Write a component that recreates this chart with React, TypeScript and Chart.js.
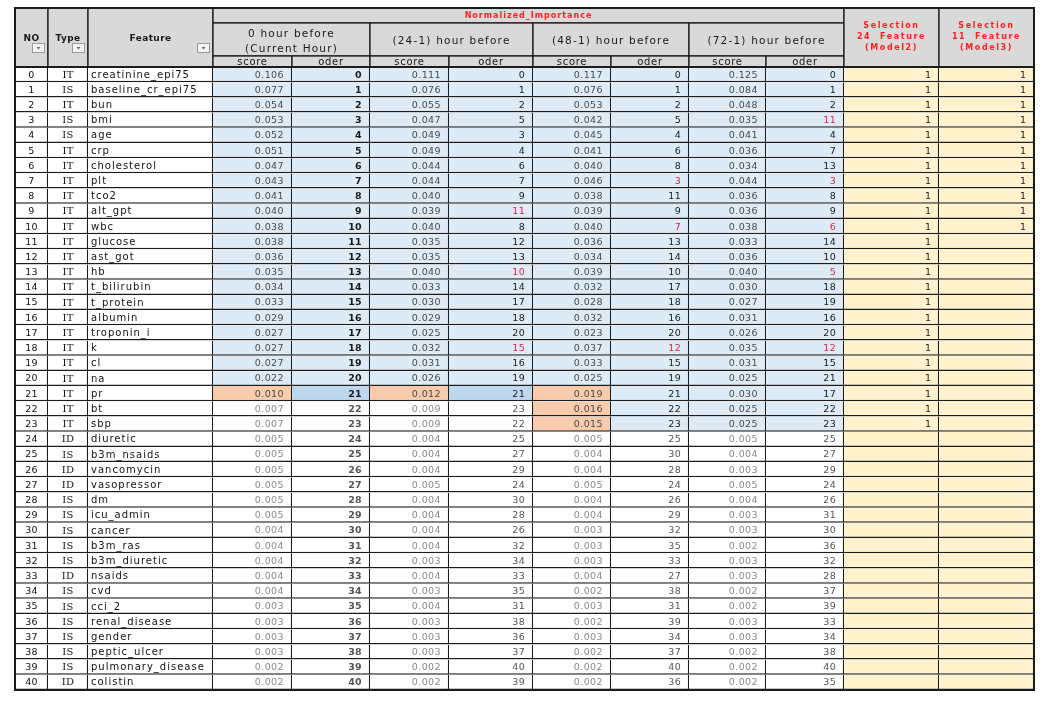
import React, { useEffect, useRef } from "react";
import { Chart, registerables } from "chart.js";
Chart.register(...registerables);

// ---------- data ----------
const ROW_NO = [0,1,2,3,4,5,6,7,8,9,10,11,12,13,14,15,16,17,18,19,20,21,22,23,24,25,26,27,28,29,30,31,32,33,34,35,36,37,38,39,40];
const TYPES = ["IT","IS","IT","IS","IS","IT","IT","IT","IT","IT","IT","IT","IT","IT","IT","IT","IT","IT","IT","IT","IT","IT","IT","IT","ID","IS","ID","ID","IS","IS","IS","IS","IS","ID","IS","IS","IS","IS","IS","IS","ID"];
const FEATURES = ["creatinine_epi75","baseline_cr_epi75","bun","bmi","age","crp","cholesterol","plt","tco2","alt_gpt","wbc","glucose","ast_got","hb","t_bilirubin","t_protein","albumin","troponin_i","k","cl","na","pr","bt","sbp","diuretic","b3m_nsaids","vancomycin","vasopressor","dm","icu_admin","cancer","b3m_ras","b3m_diuretic","nsaids","cvd","cci_2","renal_disease","gender","peptic_ulcer","pulmonary_disease","colistin"];

const SCORE_0H = [0.106,0.077,0.054,0.053,0.052,0.051,0.047,0.043,0.041,0.040,0.038,0.038,0.036,0.035,0.034,0.033,0.029,0.027,0.027,0.027,0.022,0.010,0.007,0.007,0.005,0.005,0.005,0.005,0.005,0.005,0.004,0.004,0.004,0.004,0.004,0.003,0.003,0.003,0.003,0.002,0.002];
const ORDER_0H = [0,1,2,3,4,5,6,7,8,9,10,11,12,13,14,15,16,17,18,19,20,21,22,23,24,25,26,27,28,29,30,31,32,33,34,35,36,37,38,39,40];
const SCORE_24H = [0.111,0.076,0.055,0.047,0.049,0.049,0.044,0.044,0.040,0.039,0.040,0.035,0.035,0.040,0.033,0.030,0.029,0.025,0.032,0.031,0.026,0.012,0.009,0.009,0.004,0.004,0.004,0.005,0.004,0.004,0.004,0.004,0.003,0.004,0.003,0.004,0.003,0.003,0.003,0.002,0.002];
const ORDER_24H = [0,1,2,5,3,4,6,7,9,11,8,12,13,10,14,17,18,20,15,16,19,21,23,22,25,27,29,24,30,28,26,32,34,33,35,31,38,36,37,40,39];
const SCORE_48H = [0.117,0.076,0.053,0.042,0.045,0.041,0.040,0.046,0.038,0.039,0.040,0.036,0.034,0.039,0.032,0.028,0.032,0.023,0.037,0.033,0.025,0.019,0.016,0.015,0.005,0.004,0.004,0.005,0.004,0.004,0.003,0.003,0.003,0.004,0.002,0.003,0.002,0.003,0.002,0.002,0.002];
const ORDER_48H = [0,1,2,5,4,6,8,3,11,9,7,13,14,10,17,18,16,20,12,15,19,21,22,23,25,30,28,24,26,29,32,35,33,27,38,31,39,34,37,40,36];
const SCORE_72H = [0.125,0.084,0.048,0.035,0.041,0.036,0.034,0.044,0.036,0.036,0.038,0.033,0.036,0.040,0.030,0.027,0.031,0.026,0.035,0.031,0.025,0.030,0.025,0.025,0.005,0.004,0.003,0.005,0.004,0.003,0.003,0.002,0.003,0.003,0.002,0.002,0.003,0.003,0.002,0.002,0.002];
const ORDER_72H = [0,1,2,11,4,7,13,3,8,9,6,14,10,5,18,19,16,20,12,15,21,17,22,23,25,27,29,24,26,31,30,36,32,28,37,39,33,34,38,40,35];

const SELECT_24 = [1,1,1,1,1,1,1,1,1,1,1,1,1,1,1,1,1,1,1,1,1,1,1,1,null,null,null,null,null,null,null,null,null,null,null,null,null,null,null,null,null];
const SELECT_11 = [1,1,1,1,1,1,1,1,1,1,1,null,null,null,null,null,null,null,null,null,null,null,null,null,null,null,null,null,null,null,null,null,null,null,null,null,null,null,null,null,null];

// highlight markers (per period: 0h, 24h, 48h, 72h)
const SHADED_ROWS = [22, 22, 24, 24];
const ORANGE_SCORE_ROWS = [[21], [21], [21, 22, 23], []];
const DARK_ORDER_ROWS = [[21], [21], [], []];
const RED_ORDER_ROWS = [[], [9, 13, 18], [7, 10, 18], [3, 7, 10, 13, 18]];

// header texts
const ID_TITLES = ["NO", "Type", "Feature"];
const TOP_TITLE = "Normalized_Importance";
const PERIOD_TITLES = [["0 hour before", "(Current Hour)"], ["(24-1) hour before"], ["(48-1) hour before"], ["(72-1) hour before"]];
const SUB_TITLES = ["score", "oder"];
const SELECTION_TITLES = [["Selection", "24  Feature", "(Model2)"], ["Selection", "11  Feature", "(Model3)"]];

const SCORES = [SCORE_0H, SCORE_24H, SCORE_48H, SCORE_72H];
const ORDERS = [ORDER_0H, ORDER_24H, ORDER_48H, ORDER_72H];

// ---------- layout / style ----------
const COL_WIDTHS = [33, 40, 125, 79, 78, 79, 84, 78, 78, 77, 78, 95, 95];
const COL_EDGES = COL_WIDTHS.reduce((acc: number[], w) => { acc.push(acc[acc.length - 1] + w); return acc; }, [0]);
const Y_MIN = -4.383;
const Y_MAX = 40.5;
const HEADER_Y = [Y_MIN, -3.396, -1.224, -0.5];

const BLUE = "#ddebf7";
const DARK_BLUE = "#bdd7ee";
const ORANGE = "#f8cbad";
const YELLOW = "#fff2cc";
const WHITE = "#ffffff";
const HEAD_GRAY = "#d9d9d9";
const RED = "#ff1f1f";
const ORDER_RED = "#e3204d";
const LINE = "#1c1c1c";

const F = '"DejaVu Sans", sans-serif';
const FONT_NAME = `10px ${F}`;
const FONT_NUM = `9.5px ${F}`;
const FONT_NUM_BOLD = `bold 9.5px ${F}`;
const FONT_TYPE = `10px "DejaVu Serif", serif`;

type Cell = { text: string; fill: string; color: string; align: string; font: string; spacing: string };

function buildColumns(): Cell[][] {
  const cols: Cell[][] = [];
  cols.push(ROW_NO.map((n) => ({ text: String(n), fill: WHITE, color: "#111", align: "center", font: FONT_NUM, spacing: "0.3px" })));
  cols.push(TYPES.map((t) => ({ text: t, fill: WHITE, color: "#111", align: "center", font: FONT_TYPE, spacing: "0.3px" })));
  cols.push(FEATURES.map((f) => ({ text: f, fill: WHITE, color: "#111", align: "left", font: FONT_NAME, spacing: "1px" })));
  for (let p = 0; p < 4; p++) {
    cols.push(SCORES[p].map((v, r) => {
      const orange = ORANGE_SCORE_ROWS[p].includes(r);
      const blue = r < SHADED_ROWS[p];
      return { text: v.toFixed(3), fill: orange ? ORANGE : blue ? BLUE : WHITE, color: orange || blue ? "#4a4a4a" : "#8a8a8a", align: "right", font: FONT_NUM, spacing: "0.4px" };
    }));
    cols.push(ORDERS[p].map((v, r) => {
      const dark = DARK_ORDER_ROWS[p].includes(r);
      const blue = r < SHADED_ROWS[p];
      const red = RED_ORDER_ROWS[p].includes(r);
      return { text: String(v), fill: dark ? DARK_BLUE : blue ? BLUE : WHITE, color: red ? ORDER_RED : blue || dark ? "#1a1a1a" : "#555", align: "right", font: p === 0 ? FONT_NUM_BOLD : FONT_NUM, spacing: "0.3px" };
    }));
  }
  cols.push(SELECT_24.map((v) => ({ text: v == null ? "" : String(v), fill: YELLOW, color: "#222", align: "right", font: FONT_NUM, spacing: "0px" })));
  cols.push(SELECT_11.map((v) => ({ text: v == null ? "" : String(v), fill: YELLOW, color: "#222", align: "right", font: FONT_NUM, spacing: "0px" })));
  return cols;
}

type HeadCell = { c0: number; c1: number; r0: number; r1: number; lines: string[]; kind: string };
function buildHeader(): HeadCell[] {
  const h: HeadCell[] = [];
  ID_TITLES.forEach((t, i) => h.push({ c0: i, c1: i + 1, r0: 0, r1: 3, lines: [t], kind: "id" }));
  h.push({ c0: 3, c1: 11, r0: 0, r1: 1, lines: [TOP_TITLE], kind: "top" });
  PERIOD_TITLES.forEach((lines, p) => {
    h.push({ c0: 3 + p * 2, c1: 5 + p * 2, r0: 1, r1: 2, lines, kind: "period" });
    SUB_TITLES.forEach((s, k) => h.push({ c0: 3 + p * 2 + k, c1: 4 + p * 2 + k, r0: 2, r1: 3, lines: [s], kind: "sub" }));
  });
  SELECTION_TITLES.forEach((lines, k) => h.push({ c0: 11 + k, c1: 12 + k, r0: 0, r1: 3, lines, kind: "sel" }));
  return h;
}

const HEAD_STYLE: any = {
  id: { font: `bold 9px ${F}`, color: "#1a1a1a", spacing: "0.4px", lh: 12, dy: 1 },
  top: { font: `bold 8px ${F}`, color: RED, spacing: "1px", lh: 10, dy: 0.5 },
  period: { font: `10.5px ${F}`, color: "#1a1a1a", spacing: "1.2px", lh: 15, dy: 2 },
  sub: { font: `10px ${F}`, color: "#1a1a1a", spacing: "0.7px", lh: 10, dy: 0.5 },
  sel: { font: `bold 8px ${F}`, color: RED, spacing: "1.6px", lh: 11, dy: -1 },
};

const tablePlugin = {
  id: "tableCells",
  afterDatasetsDraw(chart: any) {
    const { ctx, chartArea } = chart;
    const xs = chart.scales.x;
    const ys = chart.scales.y;
    ctx.save();
    // cell texts
    chart.data.datasets.forEach((ds: any, di: number) => {
      const meta = chart.getDatasetMeta(di);
      meta.data.forEach((el: any, i: number) => {
        const cell: Cell = ds.cells[i];
        if (!cell || !cell.text) return;
        const { x, base, y, height } = el.getProps(["x", "base", "y", "height"], true);
        const left = Math.min(x, base);
        const right = Math.max(x, base);
        ctx.save();
        ctx.beginPath();
        ctx.rect(left, y - height / 2, right - left - 1.5, height);
        ctx.clip();
        ctx.font = cell.font;
        ctx.fillStyle = cell.color;
        ctx.textBaseline = "middle";
        (ctx as any).letterSpacing = cell.spacing;
        let tx = (left + right) / 2;
        if (cell.align === "left") { ctx.textAlign = "left"; tx = left + 3; }
        else if (cell.align === "right") { ctx.textAlign = "right"; tx = right - 8; }
        else ctx.textAlign = "center";
        ctx.fillText(cell.text, tx, y + 0.5);
        ctx.restore();
      });
    });
    // header
    const px = (c: number) => xs.getPixelForValue(COL_EDGES[c]);
    const py = (r: number) => ys.getPixelForValue(HEADER_Y[r]);
    buildHeader().forEach((hc) => {
      const l = px(hc.c0), r = px(hc.c1), t = py(hc.r0), b = py(hc.r1);
      ctx.fillStyle = HEAD_GRAY;
      ctx.fillRect(l, t, r - l, b - t);
      ctx.strokeStyle = LINE;
      ctx.lineWidth = 1.3;
      ctx.strokeRect(l, t, r - l, b - t);
      const st = HEAD_STYLE[hc.kind];
      ctx.font = st.font;
      ctx.fillStyle = st.color;
      (ctx as any).letterSpacing = st.spacing;
      ctx.textAlign = "center";
      ctx.textBaseline = "middle";
      const mid = (t + b) / 2 + st.dy;
      const n = hc.lines.length;
      hc.lines.forEach((line, k) => {
        ctx.fillText(line, (l + r) / 2, mid + (k - (n - 1) / 2) * st.lh);
      });
      if (hc.kind === "id") {
        const bx = r - 16, by = b - 24;
        ctx.fillStyle = "#f3f3f3";
        ctx.fillRect(bx, by, 13, 10);
        ctx.strokeStyle = "#9a9a9a";
        ctx.lineWidth = 1;
        ctx.strokeRect(bx + 0.5, by + 0.5, 12, 9);
        ctx.fillStyle = "#6a6a6a";
        ctx.beginPath();
        ctx.moveTo(bx + 4.5, by + 4);
        ctx.lineTo(bx + 8.5, by + 4);
        ctx.lineTo(bx + 6.5, by + 6.5);
        ctx.closePath();
        ctx.fill();
      }
    });
    // outer borders
    ctx.strokeStyle = LINE;
    ctx.lineWidth = 2;
    ctx.strokeRect(chartArea.left, chartArea.top, chartArea.right - chartArea.left, chartArea.bottom - chartArea.top);
    ctx.beginPath();
    ctx.moveTo(chartArea.left, py(3));
    ctx.lineTo(chartArea.right, py(3));
    ctx.stroke();
    ctx.restore();
  },
};

export default function App() {
  const ref = useRef<HTMLCanvasElement | null>(null);
  useEffect(() => {
    if (!ref.current) return;
    const cols = buildColumns();
    const datasets = cols.map((cells, c) => ({
      type: "bar" as const,
      data: ROW_NO.map((r) => ({ y: r, x: [COL_EDGES[c], COL_EDGES[c + 1]] })),
      backgroundColor: cells.map((cell) => cell.fill),
      borderColor: LINE,
      borderWidth: { top: 0, left: 0, right: 1.2, bottom: 1.5 },
      borderSkipped: false,
      inflateAmount: 0,
      grouped: false,
      barPercentage: 1,
      categoryPercentage: 1,
      clip: false,
      cells,
    }));
    const chart = new Chart(ref.current, {
      type: "bar",
      data: { datasets } as any,
      options: {
        indexAxis: "y",
        responsive: false,
        animation: false,
        devicePixelRatio: 1,
        events: [],
        layout: { padding: { left: 15, right: 18, top: 8, bottom: 12 } },
        plugins: { legend: { display: false }, tooltip: { enabled: false } },
        scales: {
          x: { type: "linear", min: 0, max: COL_EDGES[COL_EDGES.length - 1], display: false, offset: false },
          y: { type: "linear", reverse: true, min: Y_MIN, max: Y_MAX, display: false, offset: false, ticks: { includeBounds: false } },
        },
      } as any,
      plugins: [tablePlugin],
    });
    return () => chart.destroy();
  }, []);
  return (
    <div style={{ position: "fixed", left: 0, top: 0, width: 1052, height: 702, background: "#fff" }}>
      <canvas ref={ref} width={1052} height={702} style={{ display: "block" }} />
    </div>
  );
}
